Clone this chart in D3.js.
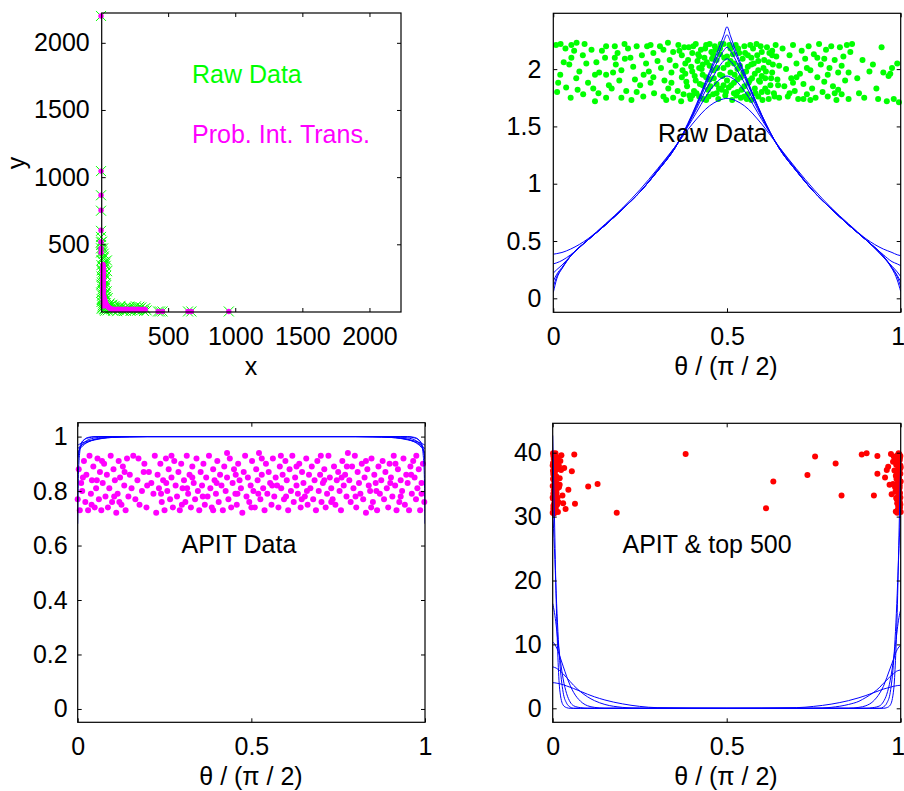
<!DOCTYPE html>
<html><head><meta charset="utf-8">
<script src="https://cdn.jsdelivr.net/npm/d3@7"></script>
<style>
body{margin:0;background:#fff}
svg{display:block}
text{font-family:"Liberation Sans",Arial,sans-serif}
</style>
</head><body>
<svg id="c" width="904" height="791"></svg>
<script>
// ---------------- DATA ----------------
// Panel 1 (top-left): raw data (green x) and probability integral transform (magenta dots)
const rawXY = [
 [5,20],[12,45],[3,70],[20,95],[8,120],[15,150],[28,175],[2,200],[18,225],[10,250],[25,280],[6,305],[14,330],[30,355],[4,380],
 [22,410],[9,440],[16,470],[1,495],[35,60],[40,110],[26,135],[11,165],[33,190],[7,215],[19,240],[38,265],[13,290],[24,320],[3,345],
 [29,370],[17,395],[45,300],[10,30],[21,80],[36,210],[2,140],[27,235],[14,60],[8,310],[31,130],[18,185],[6,90],[42,150],[23,20],
 [12,400],[4,260],[16,35],[35,340],[25,15],[50,100],[60,50],[40,30],[30,5],[44,380],[20,430],[8,520],
 [50,8],[70,22],[90,5],[110,30],[130,12],[150,25],[170,3],[190,18],[210,35],[230,10],[250,28],[270,6],[290,20],[310,14],[330,25],
 [340,8],[60,35],[80,15],[100,40],[120,2],[140,33],[160,10],[180,28],[200,16],[220,4],[240,20],[260,38],[280,11],[300,30],[320,3],
 [75,45],[95,28],[115,18],[145,42],[185,5],[215,24],[255,13],[285,35],[65,60],[85,50],
 [0,2200],[0,1045],[0,865],[0,750],[0,600],[0,555],[0,515],[0,470],[0,440],[425,0],[440,0],[458,0],[648,0],[673,0],[952,0]
];
const pitXY = [
 [15,350],[13,340],[17,330],[14,320],[16,310],[12,300],[18,290],[15,280],[13,270],[17,260],[14,250],[16,240],[12,230],[18,220],
 [15,210],[13,200],[17,190],[14,180],[16,170],[12,160],[18,150],[15,140],[14,130],[17,120],[16,110],[19,100],[15,90],[18,80],
 [20,70],[16,60],[21,50],[19,40],[22,110],[25,90],[30,75],[35,62],[40,50],[48,40],[55,32],[62,26],[70,22],[28,82],[45,45],[24,65],
 [80,16],[90,14],[100,17],[110,13],[120,15],[130,16],[140,14],[150,17],[160,13],[170,15],[180,16],[190,14],[200,17],[210,13],
 [220,15],[230,16],[240,14],[250,17],[260,13],[270,15],[280,16],[290,14],[300,15],[310,13],[320,16],[330,14],
 [0,2200],[0,1045],[0,866],[0,754],[0,605],[0,518],[0,469],[0,439],[425,0],[458,0],[648,0],[673,0],[952,0]
];
const p1Ticks = [500,1000,1500,2000];

// Panel 2 (top-right): raw data on theta/(pi/2) and fitted curves
const rawPts = [
 [.008,2.21],[.021,2.22],[.052,2.21],[.067,2.23],[.11,2.17],[.152,2.20],[.177,2.20],[.24,2.20],[.27,2.20],[.307,2.20],[.33,2.23],
 [.317,2.17],[.288,2.14],[.052,2.10],[.046,2.04],[.095,2.05],[.124,2.06],[.149,2.10],[.177,2.10],[.206,2.09],[.222,2.10],[.267,2.05],
 [.014,1.88],[.066,1.92],[.10,1.88],[.132,1.97],[.152,1.95],[.172,1.97],[.196,1.99],[.011,1.80],[.037,1.84],[.086,1.78],[.12,1.72],
 [.152,1.75],[.168,1.83],[.196,1.75],[.235,1.91],[.259,1.76],[.288,1.93],[.317,1.76],[.331,1.83],[.34,1.97],[.345,1.75],
 [.02,1.95],[.06,2.16],[.085,2.12],[.14,2.16],[.19,1.90],[.21,1.81],[.23,2.02],[.25,1.86],[.275,1.98],[.29,1.79],[.30,2.07],
 [.32,1.90],[.335,2.08],[.05,1.75],[.075,1.98],[.115,1.83],[.185,2.14],[.215,2.18],[.255,2.12],[.28,1.88],[.31,2.01],[.345,2.15],
 [.03,2.06],[.13,1.79],[.26,1.95],[.225,1.73],[.325,1.73],[.09,2.22],[.16,1.86],
 [.36,2.21],[.37,2.12],[.37,1.93],[.375,1.78],[.38,2.05],[.385,1.85],[.39,2.19],[.395,1.74],[.40,1.98],[.40,2.14],[.405,1.81],
 [.41,2.22],[.41,1.90],[.415,2.07],[.42,1.76],[.42,2.01],[.425,2.17],[.43,1.86],[.43,1.95],[.435,2.10],[.44,1.73],[.44,2.21],
 [.445,1.82],[.45,2.03],[.45,1.91],[.455,2.15],[.46,1.78],[.46,1.99],[.465,2.20],[.47,1.87],[.47,2.08],[.475,1.74],[.48,1.95],
 [.48,2.13],[.485,1.82],[.49,2.22],[.49,2.01],[.495,1.77],[.50,1.90],[.50,2.11],[.505,1.84],[.51,2.18],[.51,1.97],[.515,1.73],
 [.52,2.05],[.52,1.88],[.525,2.21],[.53,1.80],[.53,2.00],[.535,2.14],[.54,1.93],[.54,1.75],[.545,2.09],[.55,1.85],[.55,2.20],
 [.555,1.98],[.56,1.78],[.56,2.12],[.565,1.90],[.57,2.04],[.57,1.73],[.575,2.18],[.58,1.83],[.58,1.96],[.585,2.22],[.59,1.76],
 [.59,2.07],[.595,1.89],[.60,2.15],[.60,1.80],[.605,2.01],[.61,1.92],[.615,2.19],[.62,1.74],[.62,2.06],[.625,1.86],[.63,2.12],
 [.63,1.97],[.635,1.79],[.64,2.21],[.645,1.91],[.65,2.03],[.65,1.75],
 [.38,1.96],[.42,2.11],[.44,1.93],[.46,2.13],[.47,1.79],[.49,1.86],[.51,2.07],[.53,1.91],[.55,1.76],[.57,2.10],[.59,1.99],
 [.61,1.83],[.63,2.16],[.43,2.04],[.52,1.79],[.56,2.02],[.48,2.18],[.40,1.77],[.60,1.94],[.45,2.22],
 [.352,2.03],[.358,1.81],[.363,2.16],[.368,1.72],[.372,1.99],[.377,2.19],[.383,1.89],[.388,2.08],[.392,1.77],[.397,2.02],
 [.403,2.20],[.407,1.94],[.412,1.79],[.417,2.13],[.422,1.87],[.427,2.00],[.432,1.74],[.437,2.18],[.442,2.06],[.447,1.76],
 [.452,1.85],[.457,2.09],[.462,1.92],[.467,2.17],[.472,2.01],[.477,1.83],[.482,2.22],[.487,1.94],[.492,2.10],[.497,1.80],
 [.502,2.04],[.507,2.21],[.512,1.86],[.517,2.13],[.522,1.95],[.527,1.77],[.532,2.18],[.537,2.03],[.542,1.82],[.547,1.97],
 [.552,2.14],[.557,1.74],[.562,1.88],[.567,2.21],[.572,1.92],[.577,2.05],[.582,1.79],[.587,2.12],[.592,1.90],[.597,2.20],
 [.602,1.73],[.607,2.08],[.612,1.98],[.617,1.80],[.622,2.14],[.627,1.92],[.632,2.04],[.637,1.76],[.642,2.11],[.647,1.86],
 [.28,2.21],[.24,1.80],[.18,2.04],[.12,1.95],[.07,1.82],[.035,2.18],[.34,1.88],[.205,2.22],
 [.66,2.18],[.665,1.85],[.67,2.00],[.675,1.76],[.68,2.12],[.685,1.92],[.69,2.21],[.695,1.81],[.70,2.05],[.705,1.74],[.71,1.96],
 [.715,2.16],[.72,1.87],[.725,2.09],[.73,1.78],[.735,2.20],[.74,1.99],[.745,1.83],[.75,2.13],[.755,1.75],[.76,1.93],[.765,2.22],
 [.77,2.04],[.775,1.80],[.78,1.89],[.785,2.17],[.79,1.76],[.795,2.01],[.80,2.20],[.805,1.85],[.81,2.08],[.815,1.73],[.82,1.97],
 [.825,2.19],[.83,1.78],[.835,2.11],[.84,1.90],[.845,2.21],[.85,1.74],[.855,2.15],[.86,2.22],[.70,1.93],[.74,1.73],[.78,2.09],
 [.82,1.82],[.68,1.79],[.72,1.74],[.76,2.10],[.79,1.95],[.83,2.03],[.69,1.88],[.73,2.01],[.81,1.79],[.85,1.97],
 [.875,1.92],[.88,1.79],[.89,2.08],[.895,1.75],[.91,1.98],[.92,2.04],[.93,1.83],[.935,1.74],[.945,2.19],[.95,1.97],[.96,1.72],
 [.965,1.94],[.975,2.01],[.98,1.74],[.99,2.05],[.995,1.71],[.97,1.96]
];
const rawGrid = [0,.01,.025,.05,.1,.15,.2,.25,.3,.35,.4,.45,.475,.49,.5,.51,.525,.55,.6,.65,.7,.75,.8,.85,.9,.95,.975,.99,1];
const rawCurveA = [.05,.17,.26,.37,.51,.64,.78,.93,1.11,1.31,1.61,1.98,2.17,2.29,2.37,2.29,2.16,1.97,1.60,1.31,1.11,.93,.78,.64,.51,.36,.26,.16,.06];
const rawCurveB = [.10,.19,.26,.37,.51,.64,.78,.93,1.11,1.31,1.60,1.96,2.13,2.24,2.30,2.24,2.13,1.95,1.60,1.31,1.11,.93,.78,.64,.51,.37,.26,.19,.10];
const rawCurveC = [.15,.21,.27,.37,.51,.64,.78,.93,1.11,1.31,1.59,1.93,2.08,2.16,2.19,2.16,2.08,1.93,1.59,1.31,1.11,.93,.78,.64,.51,.37,.27,.20,.145];
const rawCurveD = [.22,.25,.29,.37,.51,.64,.78,.93,1.11,1.31,1.58,1.88,2.01,2.07,2.09,2.07,2.01,1.88,1.58,1.31,1.11,.93,.78,.64,.51,.36,.28,.23,.19];
const rawCurveE = [.30,.31,.33,.38,.51,.64,.78,.93,1.12,1.32,1.56,1.81,1.90,1.93,1.94,1.93,1.90,1.81,1.56,1.32,1.12,.93,.78,.64,.51,.38,.32,.30,.285];
const rawCurveF = [.385,.39,.40,.43,.52,.65,.79,.95,1.13,1.32,1.52,1.68,1.725,1.74,1.745,1.74,1.725,1.68,1.52,1.32,1.13,.95,.79,.65,.52,.43,.40,.38,.372];
const p2YTicks = [0,0.5,1,1.5,2];
const thetaTicks = [0,0.5,1];

// Panel 3 (bottom-left): APIT data
const apitPts = [
 [.000,.77],[.003,.88],[.006,.73],[.010,.83],[.013,.80],[.018,.91],[.022,.76],[.025,.86],[.030,.73],[.034,.93],[.038,.79],[.041,.84],
 [.045,.89],[.049,.74],[.053,.81],[.057,.92],[.061,.77],[.064,.87],[.068,.73],[.072,.83],[.076,.90],[.080,.78],[.084,.86],[.087,.74],
 [.091,.81],[.095,.93],[.099,.76],[.103,.88],[.107,.84],[.111,.72],[.115,.79],[.118,.91],[.122,.85],[.126,.75],[.130,.89],[.134,.82],
 [.138,.73],[.142,.92],[.146,.78],[.150,.86],[.155,.81],[.160,.93],[.166,.77],[.172,.84],[.178,.75],[.185,.80],[.192,.90],[.198,.74],
 [.205,.87],[.212,.83],[.218,.79],[.222,.93],[.226,.72],[.230,.86],[.234,.81],[.238,.90],[.242,.76],[.246,.84],[.250,.73],[.254,.92],
 [.258,.80],[.262,.88],[.266,.77],[.270,.85],[.274,.74],[.278,.91],[.282,.82],[.286,.78],[.290,.87],[.294,.73],[.298,.90],[.302,.81],
 [.306,.84],[.310,.76],[.314,.93],[.318,.79],[.322,.86],[.326,.74],[.330,.89],[.334,.83],[.338,.77],[.342,.92],[.346,.80],[.350,.73],
 [.354,.87],[.358,.82],[.362,.90],[.366,.75],[.370,.85],[.374,.78],[.378,.93],[.382,.81],[.386,.74],[.390,.88],[.394,.84],[.398,.79],
 [.402,.91],[.406,.76],[.410,.86],[.414,.82],[.418,.73],[.422,.89],[.426,.80],[.430,.85],[.434,.77],[.438,.92],[.442,.74],[.446,.83],
 [.450,.88],[.454,.79],[.458,.75],[.462,.90],[.466,.84],[.470,.81],[.474,.72],[.478,.87],[.482,.93],[.486,.78],[.490,.85],[.494,.76],
 [.498,.82],[.502,.91],[.506,.80],[.510,.74],[.514,.88],[.518,.84],[.522,.94],[.526,.77],[.530,.86],[.534,.81],[.538,.73],[.542,.90],
 [.546,.79],[.550,.87],[.554,.83],[.558,.75],[.562,.92],[.566,.78],[.570,.85],[.574,.82],[.578,.74],[.582,.89],[.586,.81],[.590,.86],
 [.594,.77],[.598,.91],[.602,.84],[.606,.73],[.610,.88],[.614,.80],[.618,.93],[.622,.76],[.626,.85],[.630,.82],[.634,.79],[.638,.90],
 [.642,.74],[.646,.87],[.650,.83],[.654,.78],[.658,.92],[.662,.75],[.666,.86],[.670,.81],[.674,.89],[.678,.77],[.682,.84],[.686,.73],
 [.690,.91],[.694,.80],[.698,.86],[.702,.76],[.706,.83],[.710,.88],[.714,.74],[.718,.79],[.722,.93],[.726,.85],[.730,.81],[.734,.77],
 [.738,.89],[.742,.75],[.746,.84],[.750,.87],[.754,.80],[.758,.73],[.762,.91],[.766,.82],[.770,.86],[.774,.78],[.778,.94],[.782,.84],
 [.786,.76],[.790,.89],[.794,.81],[.798,.93],[.802,.74],[.806,.87],[.810,.83],[.814,.79],[.818,.90],[.822,.77],[.826,.85],[.830,.72],
 [.834,.88],[.838,.82],[.842,.80],[.846,.92],[.850,.76],[.854,.86],[.858,.83],[.862,.73],[.866,.89],[.870,.79],[.874,.84],[.878,.91],
 [.882,.77],[.886,.87],[.890,.81],[.894,.74],[.898,.90],[.902,.85],[.906,.78],[.910,.93],[.914,.82],[.918,.73],[.922,.88],[.926,.76],
 [.930,.84],[.934,.80],[.938,.92],[.942,.75],[.946,.86],[.950,.83],[.954,.73],[.958,.89],[.962,.79],[.966,.91],[.970,.85],[.974,.77],
 [.978,.81],[.982,.88],[.986,.73],[.990,.83],[.994,.90],[.998,.76],
 [.015,.85],[.04,.75],[.07,.91],[.105,.78],[.135,.87],[.175,.92],[.20,.82],[.24,.79],[.27,.93],[.30,.75],[.33,.85],[.36,.78],
 [.40,.83],[.43,.94],[.46,.79],[.50,.74],[.53,.92],[.56,.82],[.60,.78],[.63,.89],[.66,.80],[.70,.93],[.73,.76],[.76,.85],
 [.80,.78],[.83,.91],[.86,.80],[.90,.83],[.93,.78],[.96,.86],[.99,.79],[.055,.84],[.12,.76],[.19,.87],[.255,.83],[.315,.81],
 [.39,.73],[.455,.86],[.52,.79],[.585,.93],[.645,.77],[.71,.84],[.775,.89],[.845,.74],[.915,.90],[.975,.93]
];
const apitGrid = [0,.002,.005,.01,.02,.03,.05,.07,.1,.15,.2,.5,.8,.85,.9,.93,.95,.97,.98,.99,.995,.998,1];
const apitCurveA = [.68,.86,.93,.97,.99,.997,1,1,1,1,1,1,1,1,1,1,1,.997,.99,.97,.93,.86,.68];
const apitCurveB = [.90,.93,.955,.975,.99,.995,.999,1,1,1,1,1,1,1,1,1,.999,.995,.99,.975,.955,.93,.90];
const apitCurveC = [.925,.935,.95,.965,.98,.988,.995,.998,1,1,1,1,1,1,1,.998,.995,.988,.98,.965,.95,.935,.925];
const apitCurveD = [.94,.945,.952,.96,.972,.98,.99,.995,.998,1,1,1,1,1,.998,.995,.99,.98,.972,.96,.952,.945,.94];
const apitCurveE = [.955,.958,.962,.967,.975,.981,.988,.993,.997,.999,1,1,1,.999,.997,.993,.988,.981,.975,.967,.962,.958,.955];
const apitCurveF = [.968,.97,.972,.975,.98,.984,.99,.994,.997,.999,1,1,1,.999,.997,.994,.99,.984,.98,.975,.972,.97,.968];
const p3YTicks = [0,0.2,0.4,0.6,0.8,1];

// Panel 4 (bottom-right): APIT & top 500
const topPts = [
 [.000,30.6],[.002,31.2],[.004,32.0],[.001,32.8],[.006,33.5],[.003,34.1],[.008,34.9],[.005,35.6],[.010,36.3],[.002,37.0],
 [.007,37.8],[.012,38.5],[.004,39.2],[.001,39.9],[.009,31.5],[.014,33.0],[.003,36.8],[.006,30.9],[.011,35.2],[.000,38.0],
 [.005,33.9],[.008,31.8],[.002,39.5],[.013,37.4],[.007,34.6],[.004,36.0],[.016,32.3],[.001,35.9],[.010,30.8],[.006,38.9],
 [.003,33.2],[.018,37.9],[.009,31.0],[.005,39.7],[.012,34.3],[.002,36.6],[.020,35.0],[.007,32.5],[.004,38.2],[.015,30.7],
 [.001,37.2],[.011,33.7],[.008,39.9],[.003,31.4],[.006,36.9],[.022,38.7],[.000,34.8],[.009,32.9],[.005,35.4],[.013,31.9],
 [.002,33.6],[.004,30.5],[.001,38.4],[.007,36.2],[.003,39.0],[.010,32.4],[.006,35.8],[.000,33.0],[.014,39.3],[.002,31.7],
 [.062,39.7],[.382,39.8],[.033,37.6],[.055,37.1],[.024,37.3],[.102,34.7],[.129,35.1],[.045,34.2],[.018,34.6],[.028,33.3],
 [.064,32.0],[.030,32.1],[.037,31.2],[.184,30.6],[.025,39.6],[.020,36.0],
 [.754,39.4],[.888,39.7],[.902,39.9],[.933,39.5],[.813,38.3],[.634,35.5],[.732,36.5],[.830,33.3],[.613,31.3],[.923,33.3],
 [.933,36.7],[.955,36.1],[.960,37.3],[.964,37.8],[.974,33.5],[.972,39.8],[.968,35.0],[.978,38.6],
 [1.000,30.7],[.998,31.4],[.996,32.2],[.999,33.0],[.994,33.8],[.997,34.5],[.992,35.3],[.995,36.1],[.990,36.8],[.998,37.5],
 [.993,38.2],[.988,39.0],[.996,39.7],[.999,31.9],[.991,34.0],[.986,36.4],[.997,38.8],[.994,30.9],[.989,32.7],[1.000,35.5],
 [.995,37.9],[.992,31.1],[.998,39.2],[.987,38.1],[.993,35.0],[.996,33.4],[.984,34.6],[.999,36.7],[.990,30.6],[.994,39.9],
 [.997,32.4],[.982,37.2],[.991,38.5],[.995,34.2],[.988,35.9],[.998,33.7],[.980,39.4],[.993,31.6],[.996,37.0],[.987,32.9],
 [.999,38.0],[.989,36.2],[.995,31.2],[.978,35.1],[.991,39.6],[.997,34.9],[1.000,37.7],[.986,30.8],[.994,36.6],[.998,32.0],
 [.992,33.1],[.996,35.7],[.999,39.5],[.985,33.9],[.993,37.6],[.990,32.1]
];
const topGrid = [0,.005,.01,.015,.02,.03,.04,.05,.06,.08,.1,.12,.15,.2,.25,.3,.5,.7,.75,.8,.85,.88,.9,.92,.94,.95,.96,.97,.98,.985,.99,.995,1];
const topCurveA = [42.7,30,17,8,3,.5,.1,0,0,0,0,0,0,0,0,0,0, 0,0,0,0,0,0,0,0,0,.1,.5,3,7.5,15,27,38.8];
const topCurveB = [31,25,18,12,7.5,2.5,.8,.2,0,0,0,0,0,0,0,0,0, 0,0,0,0,0,0,0,0,.2,.8,2.5,7.6,12,18,25,31.5];
const topCurveC = [16.4,15,13,10.5,8.3,4.6,2.3,1.0,.4,.1,0,0,0,0,0,0,0, 0,0,0,0,0,0,.1,.4,1.0,2.2,4.4,7.9,10,12.3,14.2,15.4];
const topCurveD = [10.4,10.1,9.6,9.0,8.2,6.6,5.0,3.6,2.5,1.1,.4,.15,0,0,0,0,0, 0,0,0,0,.15,.4,1.05,2.4,3.4,4.8,6.3,7.8,8.6,9.2,9.6,9.9];
const topCurveE = [6.5,6.4,6.3,6.1,5.9,5.4,4.8,4.2,3.6,2.6,1.8,1.2,.6,.15,0,0,0, 0,0,.15,.6,1.1,1.7,2.4,3.3,3.9,4.4,5.0,5.4,5.7,5.85,5.95,6.0];
const topCurveF = [4.0,4.0,3.95,3.9,3.85,3.7,3.5,3.3,3.1,2.65,2.2,1.8,1.3,.7,.3,.1,0, .1,.3,.65,1.2,1.65,2.0,2.4,2.8,3.0,3.15,3.3,3.45,3.5,3.55,3.58,3.6];
const p4YTicks = [0,10,20,30,40];

// ---------------- DRAWING ----------------
const svg = d3.select('#c');
const GREEN = '#00ff00', MAG = '#ff00ff', RED = '#ff0000', BLUE = '#0000ff';
const FS = 25;
let clipId = 0;

function panel(o) {
  const x = d3.scaleLinear().domain(o.xd).range([o.l, o.r]);
  const y = d3.scaleLinear().domain(o.yd).range([o.b, o.t]);
  const g = svg.append('g');
  const id = 'clip' + (clipId++);
  svg.append('clipPath').attr('id', id).append('rect')
    .attr('x', o.l).attr('y', o.t).attr('width', o.r - o.l).attr('height', o.b - o.t);
  const data = g.append('g');
  const lines = g.append('g').attr('clip-path', `url(#${id})`);
  return {x, y, g, data, lines, o};
}

function frame(p) {
  const {x, y, g, o} = p;
  const tl = 4;
  const bx = g.append('g').attr('transform', `translate(0,${o.b})`)
    .call(d3.axisBottom(x).tickValues(o.xt).tickFormat(o.xf).tickSize(-tl).tickPadding(o.xpad || 15));
  g.append('g').attr('transform', `translate(${o.l},0)`)
    .call(d3.axisLeft(y).tickValues(o.yt).tickFormat(o.yf).tickSize(-tl).tickPadding(o.ypad || 12));
  g.append('g').attr('transform', `translate(0,${o.t})`)
    .call(d3.axisTop(x).tickValues(o.xt).tickFormat('').tickSize(-tl));
  g.append('g').attr('transform', `translate(${o.r},0)`)
    .call(d3.axisRight(y).tickValues(o.yt).tickFormat('').tickSize(-tl));
  g.selectAll('.domain').remove();
  g.selectAll('.tick line').attr('stroke', '#000');
  g.selectAll('.tick text').attr('font-size', FS).attr('fill', '#000')
    .attr('font-family', '"Liberation Sans",Arial,sans-serif');
  // keep the last x label inside the page edge
  if (o.lastShift) bx.selectAll('.tick text').filter(d => d === o.xt[o.xt.length - 1]).attr('dx', o.lastShift);
  g.append('rect').attr('x', o.l).attr('y', o.t).attr('width', o.r - o.l).attr('height', o.b - o.t)
    .attr('fill', 'none').attr('stroke', '#000').attr('stroke-width', 1.2);
}

function curves(p, grid, list) {
  const line = d3.line().x((d, i) => p.x(grid[i])).y(d => p.y(d)).curve(d3.curveMonotoneX);
  list.forEach(vals => {
    p.lines.append('path').attr('d', line(vals)).attr('fill', 'none')
      .attr('stroke', BLUE).attr('stroke-width', 1);
  });
}

function dots(p, pts, color, r) {
  p.data.selectAll(null).data(pts).enter().append('circle')
    .attr('cx', d => p.x(d[0])).attr('cy', d => p.y(d[1])).attr('r', r).attr('fill', color);
}

function label(txt, x, y, color, anchor, rot) {
  const t = svg.append('text').attr('x', x).attr('y', y).attr('fill', color)
    .attr('text-anchor', anchor || 'start').attr('font-size', FS).text(txt);
  if (rot) t.attr('transform', `rotate(-90,${x},${y})`);
  return t;
}

const fmtNum = d => String(d);

// Panel 1
const p1 = panel({l:101.7, r:401, t:13, b:312, xd:[5,2235], yd:[-4,2222], xt:p1Ticks, yt:p1Ticks, xf:fmtNum, yf:fmtNum});
p1.data.selectAll(null).data(rawXY).enter().append('path')
  .attr('transform', d => `translate(${p1.x(d[0])},${p1.y(d[1])})`)
  .attr('d', 'M-5,-5L5,5M-5,5L5,-5').attr('stroke', GREEN).attr('stroke-width', 1).attr('fill', 'none');
dots(p1, pitXY, MAG, 2.7);
frame(p1);
label('Raw Data', 192, 83, GREEN);
label('Prob. Int. Trans.', 192, 142.5, MAG);
label('x', 251, 375, '#000', 'middle');
label('y', 24.5, 163, '#000', 'middle', true);

// Panel 2
const p2 = panel({l:553.3, r:900.7, t:13.3, b:312.3, xd:[0,1], yd:[-0.122,2.487], xt:thetaTicks, yt:p2YTicks, xf:fmtNum, yf:fmtNum, lastShift:-3});
dots(p2, rawPts, GREEN, 3);
curves(p2, rawGrid, [rawCurveA, rawCurveB, rawCurveC, rawCurveD, rawCurveE, rawCurveF]);
frame(p2);
label('Raw Data', 658, 141.5, '#000');
label('\u03b8 / (\u03c0 / 2)', 726, 375, '#000', 'middle');

// Panel 3
const p3 = panel({l:77.7, r:425, t:422.7, b:722.3, xd:[0,1], yd:[-0.049,1.051], xt:thetaTicks, yt:p3YTicks, xf:fmtNum, yf:fmtNum, ypad:10});
dots(p3, apitPts, MAG, 3);
curves(p3, apitGrid, [apitCurveA, apitCurveB, apitCurveC, apitCurveD, apitCurveE, apitCurveF]);
frame(p3);
label('APIT Data', 181.5, 552.5, '#000');
label('\u03b8 / (\u03c0 / 2)', 251, 785, '#000', 'middle');

// Panel 4
const p4 = panel({l:552.7, r:900.7, t:423.3, b:722.3, xd:[0,1], yd:[-2.19,44.6], xt:thetaTicks, yt:p4YTicks, xf:fmtNum, yf:fmtNum, ypad:11, lastShift:-3});
dots(p4, topPts, RED, 3);
curves(p4, topGrid, [topCurveA, topCurveB, topCurveC, topCurveD, topCurveE, topCurveF]);
frame(p4);
label('APIT & top 500', 622.5, 552.5, '#000');
label('\u03b8 / (\u03c0 / 2)', 726, 785, '#000', 'middle');
</script>
</body></html>
